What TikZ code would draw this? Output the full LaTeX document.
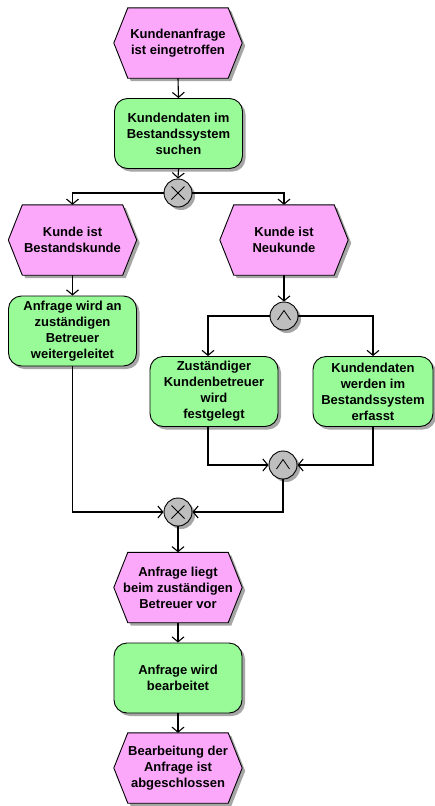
\documentclass[tikz,border=0pt]{standalone}
\usepackage{fontspec}
\setmainfont{Liberation Sans}
\usetikzlibrary{arrows.meta,shadows,backgrounds}

\definecolor{evtpink}{HTML}{FBA8FB}
\definecolor{fngreen}{HTML}{98FB98}
\definecolor{conngray}{HTML}{BEBEBE}
\definecolor{shadegray}{HTML}{A6A6A6}

\tikzset{
  base/.style={font=\bfseries\fontsize{13pt}{16pt}\selectfont, align=center, inner sep=0pt},
  evtbox/.style={base, minimum width=128pt, minimum height=70pt},
  fnbox/.style={base, draw=black, line width=0.9pt, fill=fngreen, rounded corners=13pt,
    minimum width=128pt, minimum height=70pt,
    drop shadow={shadow xshift=3pt, shadow yshift=-3pt, fill=shadegray, opacity=1}},
  conn/.style={circle, draw=black, fill=conngray, minimum size=28pt, inner sep=0pt, line width=0.9pt,
    drop shadow={shadow xshift=3pt, shadow yshift=-3pt, fill=shadegray, opacity=1}},
  flow/.style={line width=1.1pt, -{Straight Barb[length=5pt,width=12pt]}},
  sign/.style={line width=0.8pt, black}
}

% hexagonal event outline behind a named text node
\newcommand\eventshape[1]{%
  \begin{scope}[on background layer]
    \fill[shadegray] ([shift={(3pt,-3pt)}]#1.west) -- ([shift={(17pt,-3pt)}]#1.north west)
      -- ([shift={(-11pt,-3pt)}]#1.north east) -- ([shift={(3pt,-3pt)}]#1.east)
      -- ([shift={(-11pt,-3pt)}]#1.south east) -- ([shift={(17pt,-3pt)}]#1.south west) -- cycle;
    \filldraw[fill=evtpink, draw=black, line width=0.9pt] (#1.west) -- ([xshift=14pt]#1.north west)
      -- ([xshift=-14pt]#1.north east) -- (#1.east)
      -- ([xshift=-14pt]#1.south east) -- ([xshift=14pt]#1.south west) -- cycle;
  \end{scope}}
% XOR and AND marks inside a connector circle
\newcommand\xorsign[1]{%
  \draw[sign] ([shift={(-6.5pt,-6.5pt)}]#1.center) -- ([shift={(6.5pt,6.5pt)}]#1.center);
  \draw[sign] ([shift={(-6.5pt,6.5pt)}]#1.center) -- ([shift={(6.5pt,-6.5pt)}]#1.center);}
\newcommand\andsign[1]{%
  \draw[sign] ([shift={(-6.5pt,-4pt)}]#1.center) -- ([shift={(0pt,5.5pt)}]#1.center)
    -- ([shift={(6.5pt,-4pt)}]#1.center);}

\begin{document}
\begin{tikzpicture}[x=1pt, y=-1pt]
  \begin{scope}[on background layer]
    \fill[white] (0,0) rectangle (434,806);
  \end{scope}
  \useasboundingbox (0,0) rectangle (434,806);

  % events
  \node[evtbox] (e1) at (178,43) {Kundenanfrage\\ist eingetroffen};
  \node[evtbox] (e2) at (72.5,240) {Kunde ist\\Bestandskunde};
  \node[evtbox] (e3) at (284,240) {Kunde ist\\Neukunde};
  \node[evtbox] (e4) at (178,587.5) {Anfrage liegt\\beim zuständigen\\Betreuer vor};
  \node[evtbox] (e5) at (178,768) {Bearbeitung der\\Anfrage ist\\abgeschlossen};
  \eventshape{e1}\eventshape{e2}\eventshape{e3}\eventshape{e4}\eventshape{e5}

  % functions
  \node[fnbox] (f1) at (178.5,133.5) {Kundendaten im\\Bestandssystem\\suchen};
  \node[fnbox] (f2) at (72.5,331) {Anfrage wird an\\zuständigen\\Betreuer\\weitergeleitet};
  \node[fnbox] (f3) at (214,391.5) {Zuständiger\\Kundenbetreuer\\wird\\festgelegt};
  \node[fnbox, minimum width=120pt] (f4) at (373,391.5) {Kundendaten\\werden im\\Bestandssystem\\erfasst};
  \node[fnbox] (f5) at (178,678) {Anfrage wird\\bearbeitet};

  % connectors
  \node[conn] (x1) at (178,193) {};
  \node[conn] (a1) at (284,316) {};
  \node[conn] (a2) at (283,465) {};
  \node[conn] (x2) at (178,512) {};
  \xorsign{x1}\xorsign{x2}\andsign{a1}\andsign{a2}

  % control flow
  \draw[flow] (e1.south) -- (f1.north);
  \draw[flow] (f1.south) -- (x1.north);
  \draw[flow] (x1.west) -| (e2.north);
  \draw[flow] (x1.east) -| (e3.north);
  \draw[flow] (e2.south) -- (f2.north);
  \draw[flow] (e3.south) -- (a1.north);
  \draw[flow] (a1.west) -| ([xshift=-6pt]f3.north);
  \draw[flow] (a1.east) -| (f4.north);
  \draw[flow] ([xshift=-6pt]f3.south) |- (a2.west);
  \draw[flow] (f4.south) |- (a2.east);
  \draw[flow] (f2.south) |- (x2.west);
  \draw[flow] (a2.south) |- (x2.east);
  \draw[flow] (x2.south) -- (e4.north);
  \draw[flow] (e4.south) -- (f5.north);
  \draw[flow] (f5.south) -- (e5.north);
\end{tikzpicture}
\end{document}
